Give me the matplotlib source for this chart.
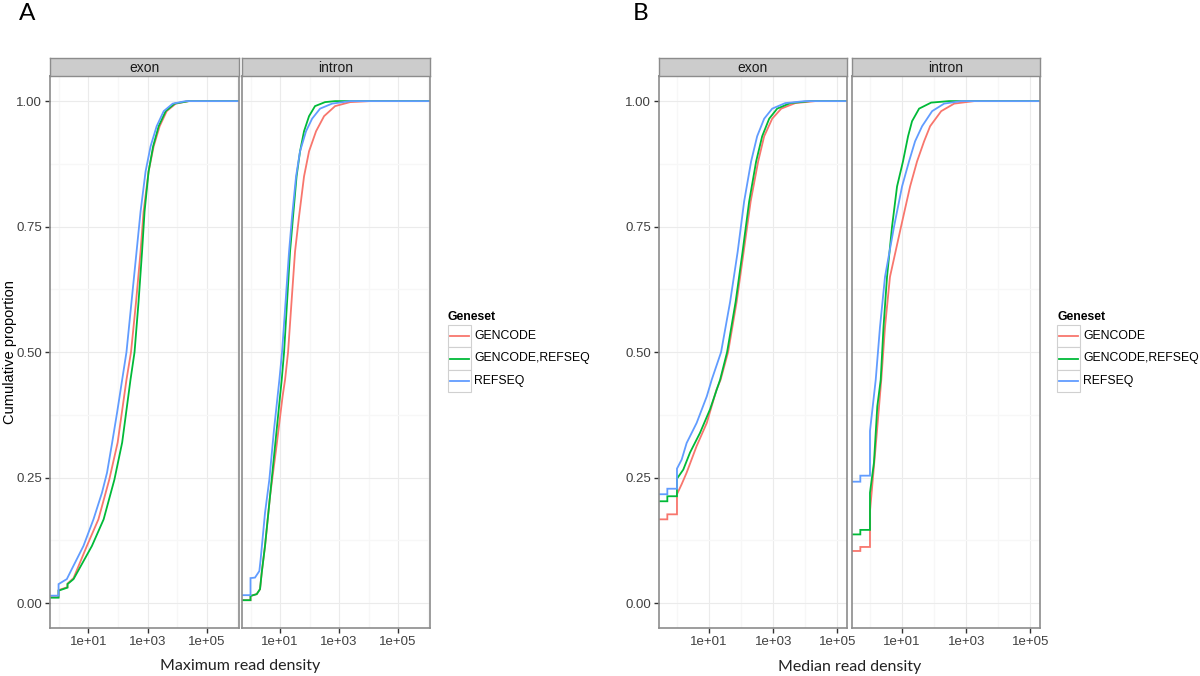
import matplotlib.pyplot as plt
from matplotlib.lines import Line2D
from matplotlib.patches import Rectangle
from matplotlib.ticker import FixedLocator, NullFormatter

# ----------------------------------
# Data
# ----------------------------------
genesets = ["GENCODE", "GENCODE,REFSEQ", "REFSEQ"]
colors = ["#F8766D", "#00BA38", "#619CFF"]
facets = ["exon", "intron"]

x_ticks = [1e1, 1e3, 1e5]
x_tick_labels = ["1e+01", "1e+03", "1e+05"]
x_minor = [1e0, 1e2, 1e4, 1e6]
y_ticks = [0.0, 0.25, 0.5, 0.75, 1.0]
y_tick_labels = ["0.00", "0.25", "0.50", "0.75", "1.00"]
y_minor = [0.125, 0.375, 0.625, 0.875]

# Panel A: maximum read density, exon
a_exon_gencode_x = [0.5, 1.0, 1.0, 2.0, 2.0, 3.2, 9.0, 22, 51, 98, 194, 276, 408, 579, 732, 1080, 1600, 2550, 4400, 8900, 24500, 2e6]
a_exon_gencode_y = [0.012, 0.012, 0.026, 0.032, 0.039, 0.05, 0.114, 0.167, 0.246, 0.32, 0.445, 0.50, 0.60, 0.70, 0.78, 0.86, 0.91, 0.95, 0.98, 0.995, 1.0, 1.0]
a_exon_both_x = [0.5, 1.0, 1.0, 2.0, 2.0, 3.2, 13.3, 33, 76, 139, 265, 363, 495, 650, 790, 1080, 1535, 2360, 4070, 8200, 24500, 2e6]
a_exon_both_y = [0.011, 0.011, 0.025, 0.031, 0.038, 0.048, 0.114, 0.167, 0.246, 0.32, 0.445, 0.50, 0.60, 0.70, 0.78, 0.86, 0.91, 0.95, 0.98, 0.995, 1.0, 1.0]
a_exon_refseq_x = [0.5, 1.0, 1.0, 1.9, 2.8, 6.9, 15, 29, 43, 64, 94, 139, 194, 287, 424, 579, 855, 1260, 2020, 3490, 7030, 19400, 2e6]
a_exon_refseq_y = [0.015, 0.015, 0.038, 0.048, 0.068, 0.114, 0.167, 0.22, 0.26, 0.32, 0.38, 0.445, 0.50, 0.60, 0.70, 0.78, 0.86, 0.91, 0.95, 0.98, 0.995, 1.0, 1.0]

# Panel A: maximum read density, intron
a_intron_gencode_x = [0.5, 1.0, 1.0, 1.62, 2.1, 2.4, 3.1, 4.58, 7.6, 12.2, 14.8, 18.7, 24.5, 32.2, 44, 65, 96, 166, 310, 732, 2360, 11200, 2e6]
a_intron_gencode_y = [0.006, 0.006, 0.0145, 0.018, 0.028, 0.061, 0.114, 0.213, 0.313, 0.412, 0.445, 0.50, 0.60, 0.70, 0.77, 0.85, 0.90, 0.94, 0.97, 0.99, 0.998, 1.0, 1.0]
a_intron_both_x = [0.5, 1.0, 1.0, 1.62, 2.1, 2.4, 3.1, 4.58, 6.77, 10, 11.4, 13.7, 17.3, 21.8, 27.6, 36.3, 47.6, 65, 96, 153, 335, 732, 2e6]
a_intron_both_y = [0.006, 0.006, 0.0145, 0.018, 0.028, 0.061, 0.114, 0.213, 0.313, 0.412, 0.445, 0.50, 0.60, 0.70, 0.77, 0.85, 0.90, 0.94, 0.97, 0.99, 0.998, 1.0, 1.0]
a_intron_refseq_x = [0.5, 1.0, 1.0, 1.42, 1.99, 2.2, 3.1, 4.34, 6.26, 9.5, 11.7, 15.4, 20.2, 25.5, 34.9, 47.6, 76, 122, 227, 579, 2360, 2e6]
a_intron_refseq_y = [0.016, 0.016, 0.050, 0.051, 0.064, 0.087, 0.18, 0.246, 0.346, 0.445, 0.50, 0.60, 0.70, 0.77, 0.85, 0.90, 0.94, 0.965, 0.985, 0.995, 1.0, 1.0]

# Panel B: median read density, exon
b_exon_gencode_x = [0.25, 0.5, 0.5, 1.0, 1.0, 1.4, 2.0, 4.1, 8.5, 17, 22.9, 39.2, 72.4, 120, 198, 340, 523, 931, 1780, 4870, 20500, 3e5]
b_exon_gencode_y = [0.167, 0.167, 0.177, 0.177, 0.217, 0.237, 0.26, 0.313, 0.359, 0.425, 0.445, 0.50, 0.60, 0.70, 0.80, 0.88, 0.93, 0.965, 0.985, 0.996, 1.0, 1.0]
b_exon_both_x = [0.25, 0.5, 0.5, 1.0, 1.0, 1.57, 2.55, 5.2, 10.7, 22.1, 36.5, 67.3, 111, 178, 294, 453, 750, 1330, 3400, 14300, 3e5]
b_exon_both_y = [0.203, 0.203, 0.213, 0.213, 0.248, 0.266, 0.30, 0.339, 0.386, 0.445, 0.50, 0.60, 0.70, 0.80, 0.88, 0.93, 0.965, 0.985, 0.996, 1.0, 1.0]
b_exon_refseq_x = [0.25, 0.5, 0.5, 1.0, 1.0, 1.4, 2.0, 4.1, 8.5, 12.1, 23.7, 45.3, 78, 124, 205, 316, 523, 931, 2370, 10000, 3e5]
b_exon_refseq_y = [0.217, 0.217, 0.228, 0.228, 0.268, 0.286, 0.319, 0.359, 0.412, 0.445, 0.50, 0.60, 0.70, 0.80, 0.88, 0.93, 0.965, 0.985, 0.996, 1.0, 1.0]

# Panel B: median read density, intron
b_intron_gencode_x = [0.25, 0.5, 0.5, 1.0, 1.0, 1.51, 2.25, 2.94, 4.2, 9.3, 17.8, 29.4, 48.7, 75, 166, 422, 1780, 3e5]
b_intron_gencode_y = [0.104, 0.104, 0.112, 0.112, 0.183, 0.313, 0.445, 0.55, 0.65, 0.75, 0.83, 0.88, 0.92, 0.95, 0.98, 0.995, 1.0, 1.0]
b_intron_both_x = [0.25, 0.5, 0.5, 1.0, 1.0, 1.33, 1.69, 2.16, 2.64, 3.4, 4.87, 6.98, 10.7, 15.4, 20.5, 34, 80.6, 294, 3e5]
b_intron_both_y = [0.137, 0.137, 0.146, 0.146, 0.22, 0.28, 0.392, 0.445, 0.55, 0.65, 0.75, 0.83, 0.88, 0.93, 0.96, 0.985, 0.997, 1.0, 1.0]
b_intron_refseq_x = [0.25, 0.5, 0.5, 1.0, 1.0, 1.51, 2.05, 2.94, 5.62, 10, 16.5, 25.5, 42.2, 86.6, 205, 698, 3e5]
b_intron_refseq_y = [0.242, 0.242, 0.254, 0.254, 0.343, 0.445, 0.55, 0.65, 0.75, 0.83, 0.88, 0.92, 0.95, 0.98, 0.995, 1.0, 1.0]

a_xlim = (0.515, 1.2e6)
b_xlim = (0.275, 2.0e5)

# ----------------------------------
# Figure setup
# ----------------------------------
W, H = 1200, 676
fig = plt.figure(figsize=(12, 6.76), dpi=100)
TICK_FONT = ["Liberation Sans", "DejaVu Sans"]
LABEL_FONT = ["Lato", "DejaVu Sans"]


def box(x0, y0, x1, y1):
    # pixel box (top-left origin) -> figure fraction rect
    return [x0 / W, 1 - y1 / H, (x1 - x0) / W, (y1 - y0) / H]


def draw_panel(rect, strip_rect, title, curves, xlim, show_y):
    ax = fig.add_axes(rect)
    for (xs, ys), c in zip(curves, colors):
        ax.plot(xs, ys, color=c, lw=1.3, solid_joinstyle="miter")
    ax.set_xscale("log")
    ax.set_xlim(*xlim)
    ax.set_ylim(-0.05, 1.05)

    ax.xaxis.set_major_locator(FixedLocator(x_ticks))
    ax.set_xticklabels(x_tick_labels)
    ax.xaxis.set_minor_locator(FixedLocator(x_minor))
    ax.xaxis.set_minor_formatter(NullFormatter())
    ax.yaxis.set_major_locator(FixedLocator(y_ticks))
    ax.yaxis.set_minor_locator(FixedLocator(y_minor))
    if show_y:
        ax.set_yticklabels(y_tick_labels)
    else:
        ax.set_yticklabels([])
    ax.tick_params(which="major", length=3.8, width=1.0, color="#333333",
                   labelsize=9.5, labelcolor="#404040", pad=2)
    ax.tick_params(which="minor", length=0)
    if not show_y:
        ax.tick_params(axis="y", which="major", length=0)
    for lab in ax.get_xticklabels() + ax.get_yticklabels():
        lab.set_family(TICK_FONT)

    ax.grid(which="major", color="#EBEBEB", lw=0.8)
    ax.grid(which="minor", color="#F7F7F7", lw=0.9)
    ax.set_axisbelow(True)
    for sp in ax.spines.values():
        sp.set_color("#8C8C8C")
        sp.set_linewidth(1.2)

    st = fig.add_axes(strip_rect)
    st.set_facecolor("#CCCCCC")
    st.set_xticks([])
    st.set_yticks([])
    for sp in st.spines.values():
        sp.set_color("#8C8C8C")
        sp.set_linewidth(1.0)
    st.text(0.5, 0.45, title, ha="center", va="center", fontsize=10,
            family=TICK_FONT, color="#1A1A1A", transform=st.transAxes)
    return ax


def draw_legend(x0, y_title):
    fig.text(x0 / W, 1 - y_title / H, "Geneset", ha="left", va="center",
             fontsize=8.8, fontweight="bold", family=TICK_FONT)
    top = y_title + 8
    for i, (name, c) in enumerate(zip(genesets, colors)):
        y0 = top + i * 22.3
        fig.add_artist(Rectangle((x0 / W, 1 - (y0 + 22.3) / H), 23 / W, 22.3 / H,
                                 transform=fig.transFigure, facecolor="white",
                                 edgecolor="#D0D0D0", lw=0.8))
        yc = 1 - (y0 + 11.2) / H
        fig.add_artist(Line2D([(x0 + 2) / W, (x0 + 21) / W], [yc, yc],
                              transform=fig.transFigure, color=c, lw=1.3))
        fig.text((x0 + 26) / W, yc, name, ha="left", va="center",
                 fontsize=8.8, family=TICK_FONT)


# ----------------------------------
# Panel A
# ----------------------------------
draw_panel(box(50, 76, 239, 628.3), box(50, 57.7, 239, 76), "exon",
           [(a_exon_gencode_x, a_exon_gencode_y),
            (a_exon_both_x, a_exon_both_y),
            (a_exon_refseq_x, a_exon_refseq_y)], a_xlim, True)
draw_panel(box(242, 76, 430, 628.3), box(242, 57.7, 430, 76), "intron",
           [(a_intron_gencode_x, a_intron_gencode_y),
            (a_intron_both_x, a_intron_both_y),
            (a_intron_refseq_x, a_intron_refseq_y)], a_xlim, False)

# ----------------------------------
# Panel B
# ----------------------------------
draw_panel(box(659, 76, 847, 628.3), box(659, 57.7, 847, 76), "exon",
           [(b_exon_gencode_x, b_exon_gencode_y),
            (b_exon_both_x, b_exon_both_y),
            (b_exon_refseq_x, b_exon_refseq_y)], b_xlim, True)
draw_panel(box(852, 76, 1040, 628.3), box(852, 57.7, 1040, 76), "intron",
           [(b_intron_gencode_x, b_intron_gencode_y),
            (b_intron_both_x, b_intron_both_y),
            (b_intron_refseq_x, b_intron_refseq_y)], b_xlim, False)

# Legends
draw_legend(448, 317)
draw_legend(1057, 317)

# Axis titles and panel letters
fig.text(10 / W, 1 - 352 / H, "Cumulative proportion", rotation=90,
         ha="center", va="center", fontsize=10.5, family=TICK_FONT)
fig.text(240 / W, 1 - 666 / H, "Maximum read density", ha="center",
         va="center", fontsize=11.5, family=LABEL_FONT, color="#222222")
fig.text(849.5 / W, 1 - 667 / H, "Median read density", ha="center",
         va="center", fontsize=11.5, family=LABEL_FONT, color="#222222")
fig.text(27 / W, 1 - 14 / H, "A", ha="center", va="center", fontsize=17.5,
         family=LABEL_FONT)
fig.text(641 / W, 1 - 13 / H, "B", ha="center", va="center", fontsize=17.5,
         family=LABEL_FONT)

fig.savefig("out.png", dpi=100, facecolor="white")
